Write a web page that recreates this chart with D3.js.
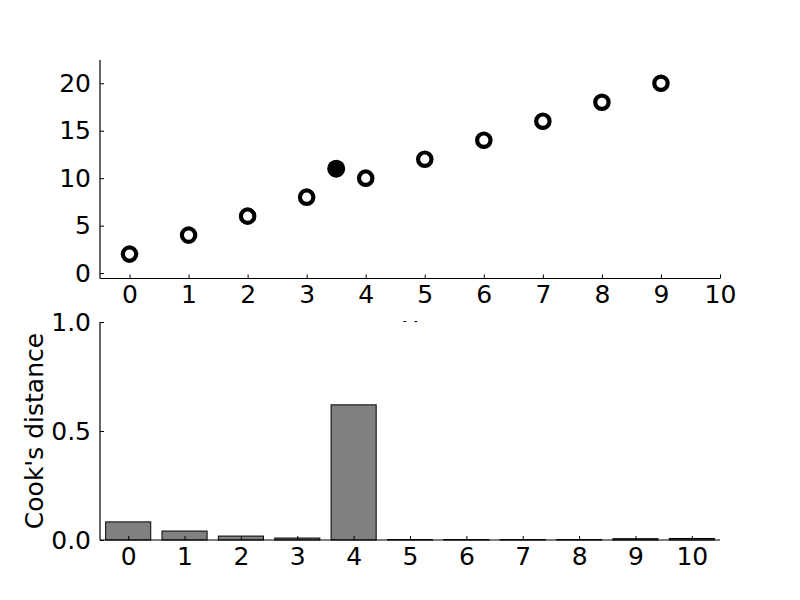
<!DOCTYPE html>
<html><head><meta charset="utf-8">
<script src="https://cdn.jsdelivr.net/npm/d3@7"></script>
<style>body{margin:0;background:#fff}text{font-family:"DejaVu Sans",sans-serif}</style>
</head><body>
<script>
const pointX = [0,1,2,3,4,5,6,7,8,9];
const pointY = [2,4,6,8,10,12,14,16,18,20];
const outlierX = [3.5];
const outlierY = [11];
const xTicksTop = [0,1,2,3,4,5,6,7,8,9,10];
const yTicksTop = [0,5,10,15,20];
const barCats = [0,1,2,3,4,5,6,7,8,9,10];
const cooks = [0.083,0.041,0.018,0.009,0.62,0.002,0.002,0.002,0.002,0.006,0.007];
const yTicksBot = [0.0,0.5,1.0];
const xLabel = "X";
const yLabelBot = "Cook's distance";

const W=800,H=600,FS=25;
const svg=d3.select("body").append("svg").attr("width",W).attr("height",H);
svg.append("rect").attr("width",W).attr("height",H).attr("fill","#fff");

const L=100,R=720;
// top
const tT=60,tB=278.5;
const x1=d3.scaleLinear().domain([-0.5,10]).range([L,R]);
const y1=d3.scaleLinear().domain([-0.57,22.45]).range([tB,tT]);
const gTop=svg.append("g");
// x label (mostly hidden behind lower axes)
svg.append("text").attr("x",410).attr("y",320.8).attr("dominant-baseline","hanging").attr("text-anchor","middle").attr("font-size",FS).text(xLabel);

const xa1=d3.axisBottom(x1).tickValues(xTicksTop).tickSize(-4).tickPadding(7).tickFormat(d3.format("d"));
const ya1=d3.axisLeft(y1).tickValues(yTicksTop).tickSize(-4).tickPadding(9).tickFormat(d3.format("d"));
function style(g){g.attr("font-size",FS).attr("font-family","DejaVu Sans");g.select(".domain").attr("stroke","#000").attr("stroke-width",1.2);g.selectAll(".tick line").attr("stroke","#000");g.selectAll("text").attr("font-size",FS).attr("fill","#000").attr("font-family","DejaVu Sans");}
gTop.append("g").attr("transform",`translate(0,${tB})`).call(xa1).call(style).call(g=>g.select(".domain").attr("d",`M${L},0H${R}`));
gTop.append("g").attr("transform",`translate(${L},0)`).call(ya1).call(style).call(g=>g.select(".domain").attr("d",`M0,${tT}V${tB}`));
gTop.selectAll("circle.p").data(pointX.map((d,i)=>[d,pointY[i]])).enter().append("circle")
 .attr("cx",d=>x1(d[0])).attr("cy",d=>y1(d[1])).attr("r",6.7).attr("fill","#fff").attr("stroke","#000").attr("stroke-width",4.2);
gTop.selectAll("circle.o").data(outlierX.map((d,i)=>[d,outlierY[i]])).enter().append("circle")
 .attr("cx",d=>x1(d[0])).attr("cy",d=>y1(d[1])).attr("r",9).attr("fill","#000");

// bottom
const bT=322,bB=540;
const gBot=svg.append("g");
gBot.append("rect").attr("x",L).attr("y",bT).attr("width",R-L).attr("height",bB-bT).attr("fill","#fff");
const x2=d3.scaleLinear().domain([-0.5,10.5]).range([L,R]);
const y2=d3.scaleLinear().domain([0,1]).range([bB,bT]);
gBot.selectAll("rect.b").data(barCats.map((d,i)=>[d,cooks[i]])).enter().append("rect")
 .attr("x",d=>x2(d[0]-0.4)).attr("width",x2(0.4)-x2(-0.4)).attr("y",d=>y2(d[1])).attr("height",d=>y2(0)-y2(d[1]))
 .attr("fill","#808080").attr("stroke","#000").attr("stroke-width",1);
const xa2=d3.axisBottom(x2).tickValues(barCats).tickSize(-4).tickPadding(7).tickFormat(d3.format("d"));
const ya2=d3.axisLeft(y2).tickValues(yTicksBot).tickSize(-4).tickPadding(9).tickFormat(d3.format(".1f"));
gBot.append("g").attr("transform",`translate(0,${bB})`).call(xa2).call(style).call(g=>g.select(".domain").attr("d",`M${L},0H${R}`));
gBot.append("g").attr("transform",`translate(${L},0)`).call(ya2).call(style).call(g=>g.select(".domain").attr("d",`M0,${bT}V${bB}`));
gBot.append("text").attr("transform",`translate(36,${(bT+bB)/2}) rotate(-90)`).attr("text-anchor","middle").attr("dominant-baseline","middle").attr("font-size",FS).text(yLabelBot);
</script>
</body></html>
